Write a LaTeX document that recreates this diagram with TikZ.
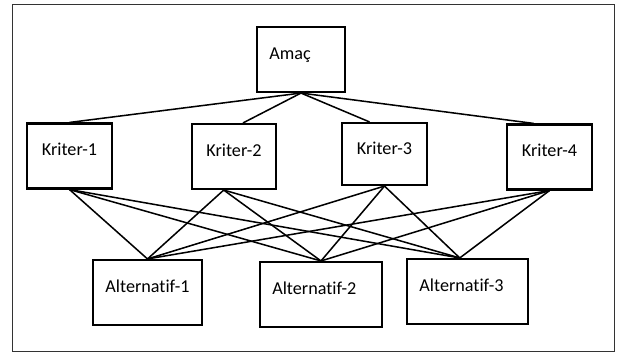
\documentclass[tikz,border=0pt]{standalone}
\usepackage{fontspec}
\setmainfont[Ligatures=NoCommon]{Carlito}
\begin{document}
\begin{tikzpicture}[
            box/.style={draw, rectangle, line width=1.8pt, inner xsep=0pt, inner ysep=0pt, text height=0.96cm, text depth=0.99cm, align=center, font=\fontsize{15.5}{18}\selectfont},
            link/.style={line width=1.3pt}]

            \useasboundingbox (0,0) rectangle (18.57,-10.62);
            \draw[line width=0.8pt, black!80] (0.36,-0.12) rectangle (18.42,-10.53);

            % Amaç
            \node[box, minimum width=2.64cm] (amac) at (9.03,-1.785) {Amaç\hspace*{0.66cm}};

            % Kriterler
            \node[box, minimum width=2.55cm] (k1) at (2.085,-4.68) {Kriter-1};
            \node[box, minimum width=2.52cm] (k2) at (7.02,-4.695) {Kriter-2};
            \node[box, minimum width=2.55cm, text height=0.93cm, text depth=0.93cm] (k3) at (11.535,-4.62) {Kriter-3};
            \node[box, minimum width=2.55cm] (k4) at (16.485,-4.71) {Kriter-4};

            % Alternatifler
            \node[box, minimum width=3.27cm] (a1) at (4.425,-8.775) {Alternatif-1};
            \node[box, minimum width=3.66cm] (a2) at (9.63,-8.835) {Alternatif-2\hspace*{0.4cm}};
            \node[box, minimum width=3.63cm] (a3) at (14.025,-8.745) {Alternatif-3\hspace*{0.36cm}};

            % Amaç - kriterler
            \draw[link] (amac.south) -- (k1.north);
            \draw[link] (amac.south) -- (k2.75);
            \draw[link] (amac.south) -- (k3.115);
            \draw[link] (amac.south) -- (k4.115);

            % kriterler - alternatifler
            \draw[link] (k1.south) -- (a1.north);
            \draw[link] (k1.south) -- (a2.north);
            \draw[link] (k1.south) -- (a3.103);
            \draw[link] (k2.253) -- (a1.north);
            \draw[link] (k2.253) -- (a2.north);
            \draw[link] (k2.253) -- (a3.103);
            \draw[link] (k3.south) -- (a1.north);
            \draw[link] (k3.south) -- (a2.north);
            \draw[link] (k3.south) -- (a3.103);
            \draw[link] (k4.south) -- (a1.north);
            \draw[link] (k4.south) -- (a2.north);
            \draw[link] (k4.south) -- (a3.103);
        \end{tikzpicture}
\end{document}
